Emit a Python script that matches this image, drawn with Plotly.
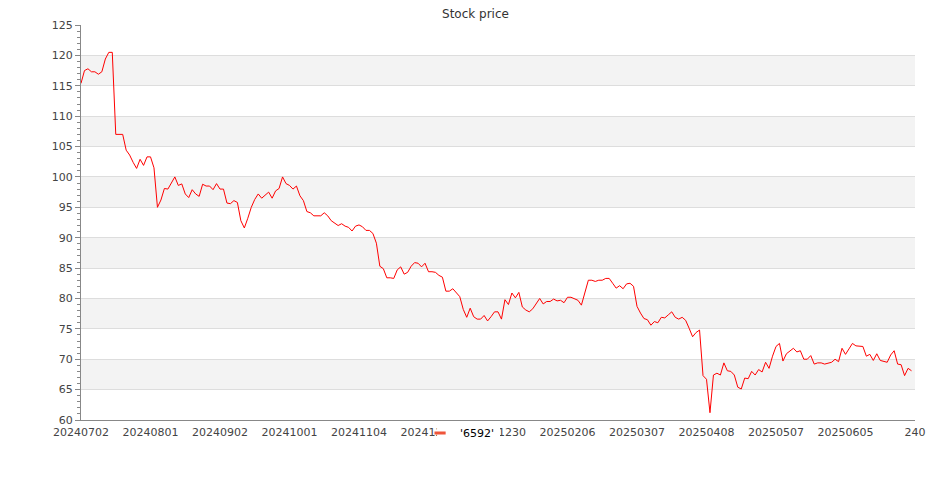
import plotly.graph_objects as go

series_name = "'6592'"
prices = [
    115.4, 117.5, 117.8, 117.3, 117.3, 116.9, 117.3, 119.4, 120.5, 120.5,
    107.0, 107.0, 107.0, 104.4, 103.6, 102.4, 101.4, 102.9, 101.9, 103.3,
    103.3, 101.5, 95.0, 96.2, 98.1, 98.0, 98.9, 100.0, 98.6, 98.85,
    97.2, 96.6, 97.9, 97.2, 96.8, 98.8, 98.5, 98.5, 97.9, 98.9,
    98.0, 98.0, 95.7, 95.6, 96.1, 95.8, 92.8, 91.6, 93.2, 95.0,
    96.3, 97.2, 96.5, 97.0, 97.5, 96.5, 97.7, 98.1, 100.0, 98.9,
    98.6, 98.0, 98.5, 96.9, 96.1, 94.3, 94.1, 93.6, 93.6, 93.6,
    94.1, 93.6, 92.8, 92.4, 92.0, 92.3, 91.9, 91.7, 91.1, 91.9,
    92.1, 91.8, 91.2, 91.2, 90.7, 89.1, 85.3, 84.9, 83.4, 83.4,
    83.3, 84.7, 85.2, 84.0, 84.3, 85.3, 85.9, 85.8, 85.2, 85.8,
    84.4, 84.4, 84.3, 83.8, 83.5, 81.2, 81.2, 81.6, 81.0, 80.3,
    78.2, 76.9, 78.4, 77.0, 76.6, 76.6, 77.2, 76.3, 77.0, 77.8,
    77.8, 76.6, 79.8, 79.0, 80.9, 80.1, 81.0, 78.6, 78.1, 77.8,
    78.3, 79.2, 80.0, 79.1, 79.5, 79.5, 79.9, 79.6, 79.7, 79.3,
    80.2, 80.2, 80.0, 79.7, 78.9, 80.9, 83.0, 83.0, 82.8, 83.0,
    83.0, 83.3, 83.3, 82.5, 81.7, 82.1, 81.6, 82.4, 82.5, 82.0,
    78.7, 77.6, 76.7, 76.5, 75.6, 76.2, 76.0, 76.9, 76.8, 77.3,
    77.8, 76.9, 76.6, 76.9, 76.4, 75.1, 73.7, 74.4, 74.8, 67.3,
    66.7, 61.2, 67.4, 67.7, 67.4, 69.4, 68.1, 68.0, 67.4, 65.4,
    65.1, 66.9, 66.8, 68.0, 67.4, 68.3, 67.9, 69.5, 68.5, 70.5,
    72.1, 72.6, 69.7, 70.9, 71.3, 71.8, 71.2, 71.4, 70.0, 70.0,
    70.6, 69.2, 69.4, 69.4, 69.2, 69.3, 69.5, 70.0, 69.6, 71.8,
    70.8, 71.7, 72.6, 72.2, 72.1, 72.1, 70.5, 70.8, 69.8, 70.9,
    69.8, 69.6, 69.5, 70.7, 71.4, 69.2, 69.1, 67.3, 68.5, 68.1,
]
tick_positions = [0, 20, 40, 60, 80, 100, 120, 140, 160, 180, 200, 220, 240]
tick_labels = ["20240702", "20240801", "20240902", "20241001", "20241104",
               "20241203", "20241230", "20250206", "20250307", "20250408",
               "20250507", "20250605", "240"]
y_ticks = list(range(60, 126, 5))

idx = list(range(len(prices)))
FONT = "DejaVu Sans"

fig = go.Figure()
fig.add_trace(go.Scatter(x=idx, y=prices, mode="lines",
                         line=dict(color="#ff0000", width=1),
                         showlegend=False, hoverinfo="y"))
fig.add_trace(go.Scatter(x=[None], y=[None], mode="markers", name=series_name,
                         marker=dict(symbol="line-ew-open", size=8,
                                     line=dict(color="#ff0000", width=3))))

shapes = []
for lo in range(65, 120, 10):
    shapes.append(dict(type="rect", xref="paper", yref="y", x0=0, x1=1,
                       y0=lo, y1=lo + 5, fillcolor="#f3f3f3", line_width=0,
                       layer="below"))
# white backing behind the legend (covers part of the tick labels)
shapes.append(dict(type="rect", xref="paper", yref="paper",
                   x0=0.4269, x1=0.5024, y0=-0.053, y1=-0.0152,
                   fillcolor="white", line_width=0, layer="above"))

fig.update_layout(
    width=935, height=500,
    margin=dict(l=73, r=28, t=17, b=88),
    paper_bgcolor="white", plot_bgcolor="white",
    title=dict(text="Stock price", x=0.5, xref="container", y=0.996,
               yanchor="top", pad=dict(t=0),
               font=dict(family=FONT, size=12, color="#333")),
    font=dict(family=FONT, size=11, color="#444"),
    shapes=shapes,
    xaxis=dict(range=[0, 240], tickmode="array", tickvals=tick_positions,
               ticktext=tick_labels, showgrid=False, zeroline=False,
               showline=True, linecolor="#888", linewidth=1, ticks="",
               ticklabelstandoff=2,
               tickfont=dict(family=FONT, size=11, color="#444")),
    yaxis=dict(range=[60, 125], tickmode="array", tickvals=y_ticks,
               showgrid=True, gridcolor="#dddddd", gridwidth=1,
               zeroline=False, showline=True, linecolor="#888", linewidth=1,
               ticks="outside", ticklen=5, tickcolor="#888",
               minor=dict(dtick=1, ticks="outside", ticklen=3,
                          tickcolor="#888", showgrid=False),
               tickfont=dict(family=FONT, size=11, color="#444")),
    legend=dict(orientation="h", x=0.4545, xanchor="center", y=-0.033,
                yanchor="middle", bgcolor="rgba(0,0,0,0)",
                font=dict(family=FONT, size=11, color="#000"),
                itemwidth=30, tracegroupgap=0),
)

fig.write_html("out.html")
